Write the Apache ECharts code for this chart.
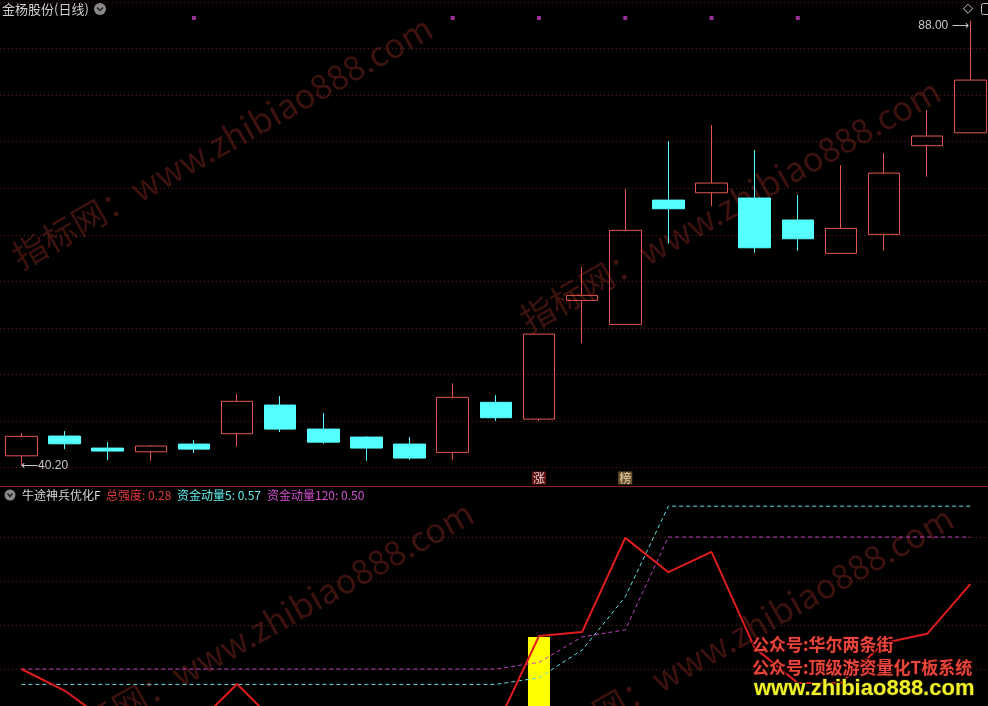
<!DOCTYPE html>
<html><head><meta charset="utf-8">
<script src="https://cdn.jsdelivr.net/npm/echarts@6/dist/echarts.min.js"></script>
<style>html,body{margin:0;padding:0;background:#000}#c{width:988px;height:706px}</style>
</head><body><div id="c"></div>
<script>
// ---- data ----
const categories = ['1','2','3','4','5','6','7','8','9','10','11','12','13','14','15','16','17','18','19','20','21','22','23'];
const opens  = [41.27,43.39,42.10,41.70,42.53,43.64,46.72,44.14,43.28,42.53,41.64,47.01,45.21,57.96,55.38,68.73,69.52,68.95,66.59,63.01,65.05,74.57,75.96];
const closes = [43.36,42.56,41.78,42.32,41.99,47.12,44.14,42.74,42.10,41.03,47.55,45.36,54.34,58.50,65.48,67.80,70.56,63.61,64.58,65.69,71.63,75.61,81.62];
const lows   = [40.20,41.99,40.81,40.74,41.56,42.24,43.82,42.56,40.74,40.84,40.81,45.03,45.00,53.37,55.38,64.08,68.09,63.07,63.29,63.01,63.29,71.24,75.96];
const highs  = [43.71,43.93,42.74,42.42,42.96,47.90,47.68,45.86,43.36,43.28,49.05,47.79,54.34,61.54,69.92,75.07,76.79,74.10,69.27,72.49,73.78,78.40,88.00];
const strength   = [0.200,0.151,0.080,0.050,0.068,0.166,0.068,0.040,0.030,0.030,0.045,0.066,0.275,0.284,0.498,0.420,0.466,0.248,0.168,0.168,0.259,0.280,0.393];
const momentum5  = [0.165,0.165,0.165,0.165,0.165,0.165,0.165,0.165,0.165,0.165,0.165,0.165,0.180,0.243,0.364,0.570,0.570,0.570,0.570,0.570,0.570,0.570,0.570];
const momentum120= [0.200,0.200,0.200,0.200,0.200,0.200,0.200,0.200,0.200,0.200,0.200,0.200,0.215,0.273,0.289,0.500,0.500,0.500,0.500,0.500,0.500,0.500,0.500];
const yellowBar  = ['-','-','-','-','-','-','-','-','-','-','-','-',0.273,'-','-','-','-','-','-','-','-','-','-'];
const signalIdx  = [4,10,12,14,16,18];
const tagIdx     = [12,14];
const tagText    = ['涨','榜'];
const title = '金杨股份(日线)';
const indName = '牛途神兵优化F';

// ---- build ----
const candleData = opens.map((o,i)=>[o, closes[i], lows[i], highs[i]]);
const SIGNAL_LEVEL = 88.29, TAG_LEVEL = 38.89;
const gridLine = {show:true, lineStyle:{color:'#6e2420', type:[1,3], width:1}, showMinLine:false, showMaxLine:false};
const CJK = "'Noto Sans CJK SC','Noto Sans',sans-serif";
const wm = '指标网：www.zhibiao888.com';
function watermark(cx, cy){
  return {type:'text', x:cx, y:cy, rotation:0.515, z:0, silent:true,
    style:{text:wm, fill:'#3e120e', font:"34px "+CJK, align:'center', verticalAlign:'middle'}};
}
const option = {
  backgroundColor:'#000',
  animation:false,
  grid:[
    {left:-0.2, right:-3.9, top:-4.66, bottom:191.8, containLabel:false, outerBoundsMode:'none'},
    {left:-0.2, right:-3.9, top:493, bottom:-51, containLabel:false, outerBoundsMode:'none'}
  ],
  xAxis:[
    {type:'category', gridIndex:0, data:categories, boundaryGap:true, show:false},
    {type:'category', gridIndex:1, data:categories, boundaryGap:true, show:false}
  ],
  yAxis:[
    {type:'value', gridIndex:0, min:35, max:90.72, interval:5, axisLine:{show:false}, axisTick:{show:false}, axisLabel:{show:false}, splitLine:gridLine},
    {type:'value', gridIndex:1, min:0, max:0.6, interval:0.1, axisLine:{show:false}, axisTick:{show:false}, axisLabel:{show:false}, splitLine:gridLine}
  ],
  series:[
    {type:'candlestick', xAxisIndex:0, yAxisIndex:0, data:candleData, barWidth:32, z:3,
      itemStyle:{color:'rgba(0,0,0,0)', color0:'#54ffff', borderColor:'#e3564e', borderColor0:'#54ffff', borderWidth:1},
      markPoint:{symbol:'circle', symbolSize:1, itemStyle:{color:'rgba(0,0,0,0)'}, animation:false,
        data:[
          {type:'min', valueDim:'lowest', label:{show:true, position:'right', distance:0, offset:[-1,0], color:'#c8c8c8', fontSize:12, fontFamily:"'Liberation Sans','DejaVu Sans'", formatter:p=>'\u27f5'+Number(p.value).toFixed(2)}},
          {type:'max', valueDim:'highest', label:{show:true, position:'left', distance:1, offset:[0,5], color:'#c8c8c8', fontSize:12, fontFamily:"'Liberation Sans','DejaVu Sans'", formatter:p=>Number(p.value).toFixed(2)+' \u27f6'}}
        ]}
    },
    {type:'scatter', xAxisIndex:0, yAxisIndex:0, symbol:'rect', symbolSize:4, z:4,
      itemStyle:{color:'#c23cc2'}, data:signalIdx.map(i=>[i, SIGNAL_LEVEL])},
    {type:'scatter', xAxisIndex:0, yAxisIndex:0, symbol:'rect', symbolSize:[14,13], z:4,
      data:tagIdx.map((i,k)=>({value:[i, TAG_LEVEL], itemStyle:{color:k===0?'#7c1616':'#8a6634'},
        label:{show:true, formatter:tagText[k], position:'inside', color:k===0?'#ffffff':'#fbefd2', fontSize:12, fontFamily:CJK}}))},
    {type:'bar', xAxisIndex:1, yAxisIndex:1, data:yellowBar, barWidth:22, z:2, itemStyle:{color:'#ffff00'}},
    {type:'line', xAxisIndex:1, yAxisIndex:1, data:momentum5, symbol:'none', z:3,
      lineStyle:{color:'#60e0e0', width:1, type:[4,3]}},
    {type:'line', xAxisIndex:1, yAxisIndex:1, data:momentum120, symbol:'none', z:3,
      lineStyle:{color:'#c040c0', width:1, type:[4,3]}},
    {type:'line', xAxisIndex:1, yAxisIndex:1, data:strength, symbol:'none', z:4,
      lineStyle:{color:'#e01c1c', width:2}}
  ],
  graphic:[
    watermark(222,142), watermark(730,205), watermark(263,627), watermark(743,632),
    {type:'line', shape:{x1:0,y1:486.5,x2:988,y2:486.5}, z:50, silent:true, style:{stroke:'#8c1f1f', lineWidth:1}},
    {type:'text', x:2, y:9, z:50, style:{text:title, fill:'#cfcfcf', font:"13px "+CJK, verticalAlign:'middle'}},
    {type:'circle', shape:{cx:100, cy:9, r:6}, z:50, style:{fill:'#8a8a8a'}},
    {type:'polyline', shape:{points:[[97,7.5],[100,10.5],[103,7.5]]}, z:51, style:{stroke:'#222', lineWidth:1.5, fill:null}},
    {type:'text', x:968, y:9, z:50, style:{text:'\u25c7', fill:'#cfcfcf', font:"13px 'DejaVu Sans'", align:'center', verticalAlign:'middle'}},
    {type:'rect', shape:{x:981.5, y:3.5, width:10, height:11, r:2}, z:50, style:{stroke:'#bdbdbd', fill:null, lineWidth:1}},
    {type:'circle', shape:{cx:10, cy:495, r:5.5}, z:50, style:{fill:'#8a8a8a'}},
    {type:'polyline', shape:{points:[[7.5,493.5],[10,496.5],[12.5,493.5]]}, z:51, style:{stroke:'#222', lineWidth:1.5, fill:null}},
    {type:'text', x:22, y:495, z:50, style:{text:indName, fill:'#d8d8d8', font:"12px "+CJK, verticalAlign:'middle'}},
    {type:'text', x:106, y:495, z:50, style:{text:'总强度: '+strength[21].toFixed(2), fill:'#e23a3a', font:"12px "+CJK, verticalAlign:'middle'}},
    {type:'text', x:177, y:495, z:50, style:{text:'资金动量5: '+momentum5[21].toFixed(2), fill:'#5ff0f0', font:"12px "+CJK, verticalAlign:'middle'}},
    {type:'text', x:267, y:495, z:50, style:{text:'资金动量120: '+momentum120[21].toFixed(2), fill:'#d24fd2', font:"12px "+CJK, verticalAlign:'middle'}},
    {type:'text', x:752, y:645, z:60, style:{text:'公众号:华尔两条街', fill:'#e8453a', font:"bold 17px "+CJK, verticalAlign:'middle', stroke:'#1a0000', lineWidth:2}},
    {type:'text', x:752, y:668, z:60, style:{text:'公众号:顶级游资量化T板系统', fill:'#e8453a', font:"bold 17px "+CJK, verticalAlign:'middle', stroke:'#1a0000', lineWidth:2}},
    {type:'text', x:754, y:689, z:60, style:{text:'www.zhibiao888.com', fill:'#f2f22a', font:"bold 22px 'Liberation Sans',Arial,sans-serif", verticalAlign:'middle', stroke:'#1a1a00', lineWidth:2}}
  ]
};
const chart = echarts.init(document.getElementById('c'), null, {renderer:'canvas', width:988, height:706});
chart.setOption(option);
</script>
</body></html>
